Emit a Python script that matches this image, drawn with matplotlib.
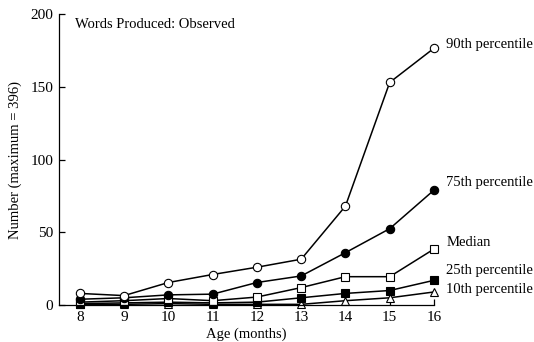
#!/usr/bin/env python3
""" Words produced (observed) by age, percentile curves. """

import matplotlib
matplotlib.use('Agg')
import matplotlib.pyplot as plt

ages = [8, 9, 10, 11, 12, 13, 14, 15, 16]
p90 = [8, 6.5, 15.5, 21, 26, 31.5, 68, 153, 176.5]
p75 = [4, 5, 7, 7.5, 15.5, 20, 36, 52.5, 79]
median = [2, 3, 4.5, 3, 5.5, 12, 19.5, 19.5, 38.5]
p25 = [1, 1.5, 2, 1.5, 2, 5, 8, 10, 17]
p10 = [0.5, 0.5, 1, 0.5, 0.5, 0.5, 3, 5, 9]

names = ["90th percentile", "75th percentile", "Median",
         "25th percentile", "10th percentile"]
label_y = [179, 84, 43, 24, 10.5]

plt.rcParams['font.family'] = ['Liberation Serif', 'DejaVu Serif']

fig = plt.figure(figsize=(5.34, 3.42), dpi=100)
ax = fig.add_axes([0.1105, 0.108, 0.7022, 0.851])

styles = [
    (p90, 'o', 'white'),
    (p75, 'o', 'black'),
    (median, 's', 'white'),
    (p25, 's', 'black'),
    (p10, '^', 'white'),
]
# draw lowest first so upper curves sit on top
for (vals, mk, fc) in reversed(styles):
    ms = 6 if mk == 'o' else 5.5
    ax.plot(ages, vals, color='black', lw=1.1, marker=mk, ms=ms,
            mfc=fc, mec='black', mew=0.8, clip_on=False)

for name, y in zip(names, label_y):
    ax.text(16.28, y, name, fontsize=10.5, va='center', ha='left')

ax.text(7.88, 197, "Words Produced: Observed", fontsize=10.5,
        va='top', ha='left')

ax.set_xlim(7.53, 16.0)
ax.set_ylim(0, 200)
ax.set_xticks(ages)
ax.set_yticks([0, 50, 100, 150, 200])
ax.tick_params(direction='in', length=4.5, width=0.9, labelsize=11, pad=4)
for s in ['top', 'right']:
    ax.spines[s].set_visible(False)
for s in ['left', 'bottom']:
    ax.spines[s].set_linewidth(0.9)

ax.set_xlabel("Age (months)", fontsize=10.5, labelpad=3)
ax.set_ylabel("Number (maximum = 396)", fontsize=10.5, labelpad=6)

fig.savefig("out.png", dpi=100)
